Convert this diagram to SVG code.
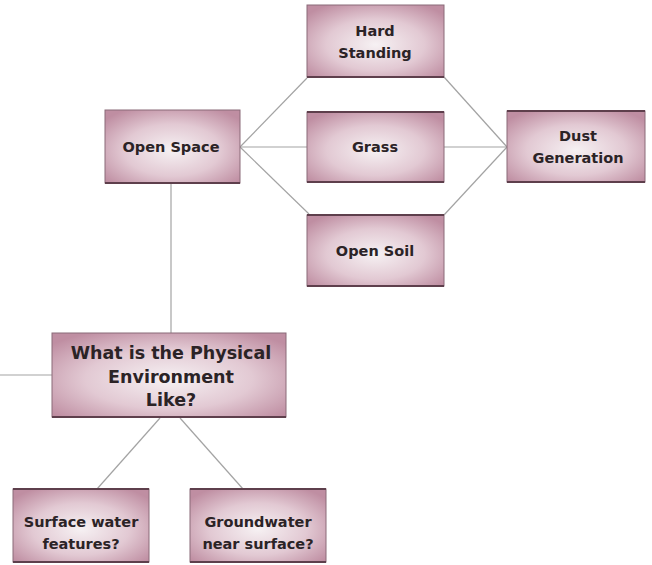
<svg xmlns="http://www.w3.org/2000/svg" width="652" height="565" viewBox="0 0 652 565">
<defs>
<radialGradient id="g" cx="0.5" cy="0.55" r="0.65">
<stop offset="0" stop-color="#f6f1f3"/>
<stop offset="0.55" stop-color="#e2c9d3"/>
<stop offset="1" stop-color="#bf8ea2"/>
</radialGradient>
<style>
.box{fill:url(#g);stroke:#8a6a78;stroke-width:1}
.edge{stroke:#5e3f4c;stroke-width:2}
.t{font-family:"DejaVu Sans","Liberation Sans",sans-serif;font-weight:bold;font-size:14.5px;fill:#2b2326;text-anchor:middle}
.big{font-size:17.5px}
.c{stroke:#a3a3a3;stroke-width:1.2;fill:none}
</style>
</defs>
<rect width="652" height="565" fill="#ffffff"/>
<g id="connectors">
<line class="c" x1="240" y1="147" x2="307" y2="78"/>
<line class="c" x1="240" y1="147" x2="307" y2="147"/>
<line class="c" x1="240" y1="147" x2="309" y2="214"/>
<line class="c" x1="444" y1="77" x2="507" y2="147"/>
<line class="c" x1="444" y1="147" x2="507" y2="147"/>
<line class="c" x1="444" y1="215" x2="507" y2="147"/>
<line class="c" x1="171" y1="183" x2="171" y2="333"/>
<line class="c" x1="0" y1="375" x2="52" y2="375"/>
<line class="c" x1="160" y1="418" x2="97" y2="489"/>
<line class="c" x1="180" y1="418" x2="243" y2="489"/>
</g>
<g id="hard-standing">
<rect class="box" x="307" y="5" width="137" height="72"/>
<line class="edge" x1="307" y1="77" x2="444" y2="77"/>
<text class="t" x="375" y="36">Hard</text>
<text class="t" x="375" y="58">Standing</text>
</g>
<g id="grass">
<rect class="box" x="307" y="112" width="137" height="70"/>
<line class="edge" x1="307" y1="112" x2="444" y2="112"/>
<line class="edge" x1="307" y1="182" x2="444" y2="182"/>
<text class="t" x="375" y="152">Grass</text>
</g>
<g id="open-soil">
<rect class="box" x="307" y="215" width="137" height="71"/>
<line class="edge" x1="307" y1="215" x2="444" y2="215"/>
<line class="edge" x1="307" y1="286" x2="444" y2="286"/>
<text class="t" x="375" y="256">Open Soil</text>
</g>
<g id="dust-generation">
<rect class="box" x="507" y="111" width="138" height="71"/>
<line class="edge" x1="507" y1="111" x2="645" y2="111"/>
<line class="edge" x1="507" y1="182" x2="645" y2="182"/>
<text class="t" x="578" y="141">Dust</text>
<text class="t" x="578" y="163">Generation</text>
</g>
<g id="open-space">
<rect class="box" x="105" y="110" width="135" height="73"/>
<line class="edge" x1="105" y1="183" x2="240" y2="183"/>
<text class="t" x="171" y="152">Open Space</text>
</g>
<g id="physical-environment">
<rect class="box" x="52" y="333" width="234" height="84"/>
<line class="edge" x1="52" y1="417" x2="286" y2="417"/>
<text class="t big" x="171" y="359">What is the Physical</text>
<text class="t big" x="171" y="383">Environment</text>
<text class="t big" x="171" y="406">Like?</text>
</g>
<g id="surface-water">
<rect class="box" x="13" y="489" width="136" height="73"/>
<line class="edge" x1="13" y1="489" x2="149" y2="489"/>
<line class="edge" x1="13" y1="562" x2="149" y2="562"/>
<text class="t" x="81" y="527">Surface water</text>
<text class="t" x="81" y="549">features?</text>
</g>
<g id="groundwater">
<rect class="box" x="190" y="489" width="136" height="73"/>
<line class="edge" x1="190" y1="489" x2="326" y2="489"/>
<line class="edge" x1="190" y1="562" x2="326" y2="562"/>
<text class="t" x="258" y="527">Groundwater</text>
<text class="t" x="258" y="549">near surface?</text>
</g>
</svg>
